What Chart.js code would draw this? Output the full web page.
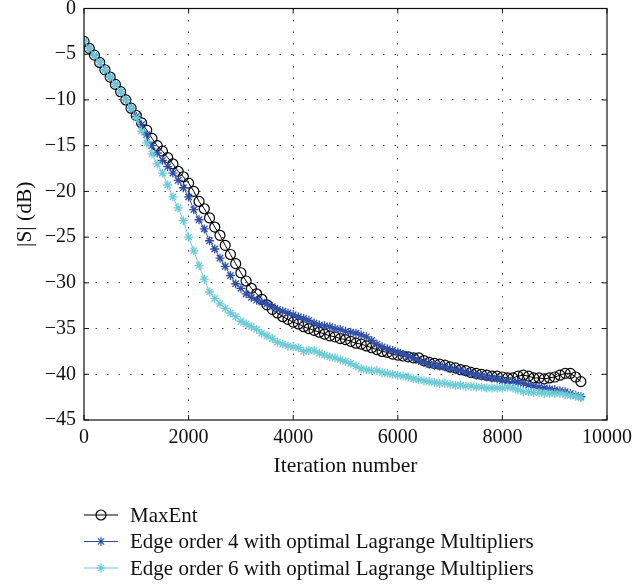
<!DOCTYPE html>
<html>
<head>
<meta charset="utf-8">
<script src="https://cdn.jsdelivr.net/npm/chart.js@4/dist/chart.umd.min.js"></script>
<style>
  html, body { margin: 0; padding: 0; background: #fff; }
  #wrap { width: 633px; height: 586px; }
</style>
</head>
<body>
<div id="wrap"><canvas id="grafico" width="633" height="586"></canvas></div>
<script>
// ===== DADOS =====
const iteracoes = [0,100,200,300,400,500,600,700,800,900,1000,1100,1200,1300,1400,1500,1600,1700,1800,1900,
  2000,2100,2200,2300,2400,2500,2600,2700,2800,2900,3000,3100,3200,3300,3400,3500,3600,3700,3800,3900,
  4000,4100,4200,4300,4400,4500,4600,4700,4800,4900,5000,5100,5200,5300,5400,5500,5600,5700,5800,5900,
  6000,6100,6200,6300,6400,6500,6600,6700,6800,6900,7000,7100,7200,7300,7400,7500,7600,7700,7800,7900,
  8000,8100,8200,8300,8400,8500,8600,8700,8800,8900,9000,9100,9200,9300,9400,9500];

const maxEnt = [-3.6,-4.35,-5.1,-5.9,-6.7,-7.5,-8.3,-9.1,-10.0,-10.9,-11.7,-12.5,-13.3,-14.2,-15.0,-15.6,-16.3,-17.0,-17.8,-18.4,
  -19.1,-20.0,-21.1,-21.9,-22.9,-23.9,-24.8,-25.9,-26.9,-27.9,-28.9,-29.8,-30.6,-31.2,-31.8,-32.4,-32.9,-33.3,-33.7,-34.0,
  -34.3,-34.5,-34.8,-35.0,-35.2,-35.4,-35.6,-35.8,-35.9,-36.1,-36.2,-36.4,-36.6,-36.7,-36.9,-37.1,-37.3,-37.5,-37.6,-37.8,
  -37.9,-38.0,-38.1,-38.2,-38.2,-38.5,-38.7,-38.8,-38.9,-39.0,-39.2,-39.3,-39.5,-39.6,-39.8,-39.9,-40.0,-40.1,-40.2,-40.2,
  -40.3,-40.4,-40.4,-40.2,-40.1,-40.2,-40.4,-40.4,-40.5,-40.4,-40.3,-40.1,-39.9,-39.9,-40.3,-40.8];

const edge4 = [-3.6,-4.35,-5.1,-5.9,-6.7,-7.5,-8.3,-9.1,-10.0,-10.9,-11.8,-12.7,-13.8,-15.0,-15.8,-16.6,-17.3,-18.0,-18.8,-19.6,
  -20.6,-22.0,-23.1,-24.1,-25.4,-26.3,-27.3,-28.2,-29.2,-30.1,-30.6,-31.2,-31.6,-31.9,-32.1,-32.3,-32.6,-32.9,-33.1,-33.3,
  -33.5,-33.7,-33.9,-34.1,-34.4,-34.6,-34.7,-34.8,-35.0,-35.1,-35.3,-35.4,-35.5,-35.7,-35.9,-36.3,-36.7,-37.0,-37.2,-37.4,
  -37.6,-37.8,-38.0,-38.2,-38.5,-38.7,-38.9,-39.0,-39.1,-39.2,-39.4,-39.5,-39.6,-39.8,-39.9,-40.1,-40.2,-40.3,-40.4,-40.5,
  -40.7,-40.8,-40.8,-40.9,-41.0,-41.2,-41.3,-41.4,-41.5,-41.6,-41.7,-41.8,-41.9,-42.1,-42.3,-42.45];

const edge6 = [-3.6,-4.35,-5.1,-5.9,-6.7,-7.5,-8.3,-9.1,-10.0,-10.9,-12.0,-13.4,-14.7,-15.9,-17.0,-18.0,-19.3,-20.6,-21.8,-23.2,
  -25.0,-26.5,-28.1,-29.6,-31.0,-31.7,-32.3,-32.8,-33.3,-33.7,-34.2,-34.5,-34.8,-35.1,-35.5,-35.8,-36.1,-36.5,-36.7,-36.9,
  -37.0,-37.1,-37.5,-37.4,-37.4,-37.7,-37.9,-38.1,-38.2,-38.4,-38.6,-38.8,-39.1,-39.4,-39.5,-39.6,-39.6,-39.8,-39.9,-40.0,
  -40.1,-40.2,-40.3,-40.5,-40.6,-40.7,-40.8,-40.9,-41.0,-41.0,-41.1,-41.2,-41.2,-41.3,-41.3,-41.4,-41.4,-41.5,-41.5,-41.5,
  -41.5,-41.4,-41.5,-41.7,-41.9,-41.9,-42.0,-42.0,-42.1,-42.1,-42.1,-42.1,-42.2,-42.3,-42.4,-42.55];

const nomesSeries = [
  "MaxEnt",
  "Edge order 4 with optimal Lagrange Multipliers",
  "Edge order 6 with optimal Lagrange Multipliers"
];
const coresSeries = ["#000000", "#2f4fa6", "#6ccbd7"];

const FONTE = '"Liberation Serif", "Times New Roman", serif';

function pontos(valores) {
  return iteracoes.map((it, i) => ({ x: it, y: valores[i] }));
}

// ===== PLUGIN: MOLDURA, MARCAS E LEGENDA =====
const molduraLegenda = {
  id: "molduraLegenda",
  afterDraw(chart) {
    const { ctx, chartArea: a, scales } = chart;
    ctx.save();
    ctx.strokeStyle = "#111";
    ctx.lineWidth = 1.2;
    ctx.strokeRect(a.left, a.top, a.right - a.left, a.bottom - a.top);

    // marcas internas nos eixos
    ctx.lineWidth = 1;
    ctx.beginPath();
    scales.x.ticks.forEach(t => {
      const px = scales.x.getPixelForValue(t.value);
      ctx.moveTo(px, a.bottom); ctx.lineTo(px, a.bottom - 5);
      ctx.moveTo(px, a.top); ctx.lineTo(px, a.top + 5);
    });
    scales.y.ticks.forEach(t => {
      const py = scales.y.getPixelForValue(t.value);
      ctx.moveTo(a.left, py); ctx.lineTo(a.left + 5, py);
      ctx.moveTo(a.right, py); ctx.lineTo(a.right - 5, py);
    });
    ctx.stroke();

    const linhas = [515, 541.5, 568];
    ctx.font = "21px " + FONTE;
    ctx.textBaseline = "middle";
    nomesSeries.forEach((nome, i) => {
      const y = linhas[i];
      ctx.strokeStyle = coresSeries[i];
      ctx.lineWidth = 1.2;
      ctx.beginPath();
      ctx.moveTo(84, y);
      ctx.lineTo(118, y);
      ctx.stroke();
      ctx.fillStyle = "rgba(0,0,0,0)";
      Chart.helpers.drawPoint(ctx, {
        pointStyle: i === 0 ? "circle" : "star",
        radius: i === 0 ? 5 : 4.5,
        rotation: 0,
        borderWidth: 1.2
      }, 101, y);
      ctx.fillStyle = "#111";
      ctx.fillText(nome, 130, y + 1);
    });
    ctx.restore();
  }
};

// ===== GRÁFICO =====
const ctx = document.getElementById("grafico").getContext("2d");

new Chart(ctx, {
  type: "line",
  data: {
    datasets: [
      {
        label: nomesSeries[0],
        data: pontos(maxEnt),
        borderColor: coresSeries[0],
        borderWidth: 1,
        pointStyle: "circle",
        pointRadius: 5,
        pointBorderWidth: 1.2,
        pointBorderColor: coresSeries[0],
        pointBackgroundColor: "rgba(0,0,0,0)",
        order: 3
      },
      {
        label: nomesSeries[1],
        data: pontos(edge4),
        borderColor: coresSeries[1],
        borderWidth: 1,
        pointStyle: "star",
        pointRadius: 4.5,
        pointBorderWidth: 1.3,
        pointBorderColor: coresSeries[1],
        order: 2
      },
      {
        label: nomesSeries[2],
        data: pontos(edge6),
        borderColor: coresSeries[2],
        borderWidth: 1,
        pointStyle: "star",
        pointRadius: 4.5,
        pointBorderWidth: 1.3,
        pointBorderColor: coresSeries[2],
        order: 1
      }
    ]
  },
  options: {
    responsive: false,
    animation: false,
    events: [],
    layout: { padding: { left: 0, top: 8.5, right: 26, bottom: 106 } },
    plugins: {
      legend: { display: false },
      tooltip: { enabled: false }
    },
    scales: {
      x: {
        type: "linear",
        min: 0,
        max: 10000,
        afterFit(scale) {
          scale.height = 60;
          scale.paddingLeft = 0;
          scale.paddingRight = 0;
        },
        ticks: {
          stepSize: 2000,
          padding: 6,
          color: "#111",
          font: { family: FONTE, size: 20 },
          callback: v => String(v),
          maxRotation: 0
        },
        grid: {
          drawTicks: false,
          color: ctx => (ctx.tick && (ctx.tick.value === 0 || ctx.tick.value === 10000)) ? "rgba(0,0,0,0)" : "#444",
          lineWidth: 1
        },
        border: { display: false, dash: [1.5, 10] },
        title: {
          display: true,
          text: "Iteration number",
          color: "#111",
          font: { family: FONTE, size: 21.5 },
          padding: { top: 0, bottom: 1 }
        }
      },
      y: {
        min: -45,
        max: 0,
        afterFit(scale) {
          scale.width = 84;
          scale.paddingTop = 0;
          scale.paddingBottom = 0;
        },
        ticks: {
          stepSize: 5,
          padding: 8,
          color: "#111",
          font: { family: FONTE, size: 20 },
          callback: v => String(v).replace("-", "\u2212")
        },
        grid: {
          drawTicks: false,
          color: ctx => (ctx.tick && (ctx.tick.value === 0 || ctx.tick.value === -45)) ? "rgba(0,0,0,0)" : "#444",
          lineWidth: 1
        },
        border: { display: false, dash: [1.5, 10] },
        title: {
          display: true,
          text: "|S| (dB)",
          color: "#111",
          font: { family: FONTE, size: 21.5 },
          padding: { top: 12, bottom: 0 }
        }
      }
    }
  },
  plugins: [molduraLegenda]
});
</script>
</body>
</html>
